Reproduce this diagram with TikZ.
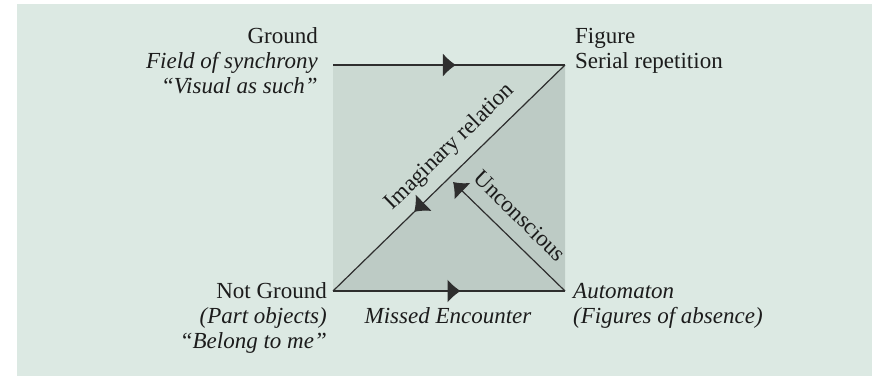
\documentclass[tikz,border=0pt]{standalone}
\usepackage{fontspec}
\setmainfont{Liberation Serif}
\usetikzlibrary{arrows.meta,decorations.markings}
\definecolor{bgc}{HTML}{DCE9E3}
\definecolor{upc}{HTML}{CBD9D2}
\definecolor{loc}{HTML}{BDCBC5}
\definecolor{linec}{HTML}{2E2E2E}
\definecolor{txtc}{HTML}{1C1C1C}
\begin{document}
\begin{tikzpicture}[x=1pt,y=-1pt,
  txt/.style={inner sep=0pt, text=txtc, font=\fontsize{23}{25}\selectfont},
  ln/.style={draw=linec, line width=1.2pt},
  midarrow/.style={postaction={decorate}, decoration={markings,
     mark=at position #1 with {\arrow{Latex[width=23pt,length=13pt]}}}}
]
\useasboundingbox (0,0) rectangle (872,376);
\fill[white] (0,0) rectangle (872,376);
\fill[bgc] (17,4) rectangle (872,376);
\coordinate (TL) at (333,65);
\coordinate (TR) at (565,65);
\coordinate (BL) at (333,291);
\coordinate (BR) at (565,291);
\coordinate (U) at (453,182);
\fill[upc] (TL) -- (TR) -- (BL) -- cycle;
\fill[loc] (TR) -- (BR) -- (BL) -- cycle;
\draw[ln, midarrow=0.53] (TL) -- (TR);
\draw[ln, midarrow=0.55] (BL) -- (BR);
\draw[ln, midarrow=0.65] (TR) -- (BL);
\draw[ln, -{Latex[width=23pt,length=13pt]}] (BR) -- (U);
\node[txt, rotate=44.2] (imag) at (450,147) {Imaginary relation};
\node[txt, rotate=-44.2] (uncon) at (520,216) {Unconscious};
\node[txt, anchor=base east, align=right] (ground) at (318,93)
  {Ground\\\textit{Field of synchrony}\\\textit{“Visual as such”}};
\node[txt, anchor=base west, align=left] (figure) at (575,68)
  {Figure\\Serial repetition};
\node[txt, anchor=base east, align=right] (notground) at (327,348)
  {Not Ground\\\textit{(Part objects)}\\\textit{“Belong to me”}};
\node[txt, anchor=base west, align=left] (automaton) at (573,323)
  {\textit{Automaton}\\\textit{(Figures of absence)}};
\node[txt, anchor=base] (missed) at (448,323) {\textit{Missed Encounter}};
\end{tikzpicture}
\end{document}
